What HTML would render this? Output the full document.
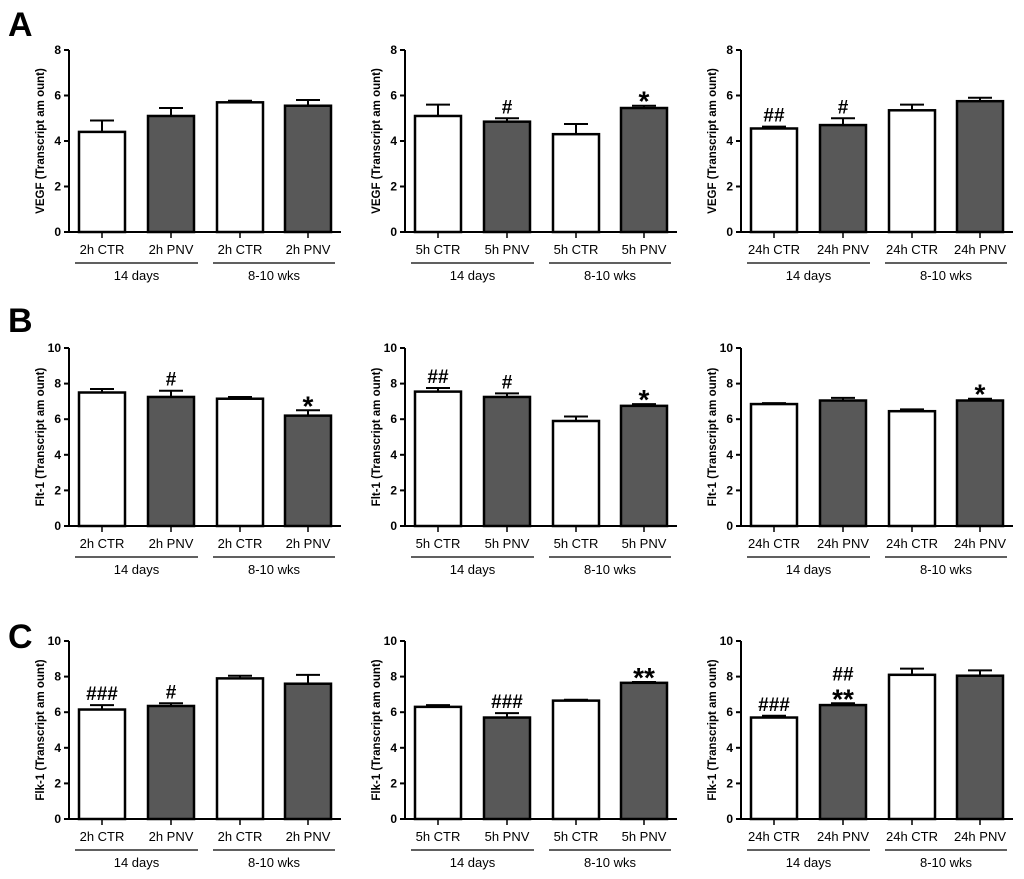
<!DOCTYPE html>
<html><head><meta charset="utf-8"><style>
body{margin:0;background:#fff;}
svg{display:block;font-family:"Liberation Sans",Arial,sans-serif;}
</style></head><body>
<svg id="fig" width="1024" height="879" viewBox="0 0 1024 879">
<text x="8" y="36" font-size="34" font-weight="bold">A</text>
<text x="8" y="332" font-size="34" font-weight="bold">B</text>
<text x="8" y="648" font-size="34" font-weight="bold">C</text>
</svg>
<script>
const timepoints = ["2h","5h","24h"];
const genes = ["VEGF","Flt-1","Flk-1"];
const groupLabels = ["14 days","8-10 wks"];
const yMaxByRow = [8,10,10];
const tickStepByRow = [2,2,2];
// values per row (gene), per column (timepoint): [CTR14, PNV14, CTR8, PNV8]
const valuesA = [[4.4,5.1,5.7,5.55],[5.1,4.85,4.3,5.45],[4.55,4.7,5.35,5.75]];
const errorsA = [[0.5,0.35,0.07,0.25],[0.5,0.15,0.45,0.1],[0.08,0.3,0.25,0.15]];
const valuesB = [[7.5,7.25,7.15,6.2],[7.55,7.25,5.9,6.75],[6.85,7.05,6.45,7.05]];
const errorsB = [[0.2,0.35,0.1,0.3],[0.2,0.2,0.25,0.1],[0.05,0.15,0.1,0.1]];
const valuesC = [[6.15,6.35,7.9,7.6],[6.3,5.7,6.65,7.65],[5.7,6.4,8.1,8.05]];
const errorsC = [[0.25,0.15,0.15,0.5],[0.1,0.25,0.05,0.05],[0.1,0.1,0.35,0.3]];
const marksA = [["","","",""],["","#","","*"],["##","#","",""]];
const marksB = [["","#","","*"],["##","#","","*"],["","","","*"]];
const marksC = [["###","#","",""],["","###","","**"],["###","##\n**","",""]];

const values=[valuesA,valuesB,valuesC], errors=[errorsA,errorsB,errorsC], marks=[marksA,marksB,marksC];
const colX=[69,405,741];
const rowTop=[50,348,641], rowBase=[232,526,819];
const NS="http://www.w3.org/2000/svg";
const svg=document.getElementById('fig');
function mk(tag,attrs,parent){const e=document.createElementNS(NS,tag);for(const k in attrs)e.setAttribute(k,attrs[k]);(parent||svg).appendChild(e);return e;}

for(let r=0;r<3;r++)for(let c=0;c<3;c++){
  const g=mk('g',{});
  
  
  const ax=colX[c], y0=rowBase[r], yt=rowTop[r], ymax=yMaxByRow[r];
  const yS=v=>y0-(v/ymax)*(y0-yt);
  const barOff=[10,79,148,216], bw=46;
  const xEnd=ax+272;
  for(let i=0;i<4;i++){
    const v=values[r][c][i], e=errors[r][c][i];
    const x=ax+barOff[i], cx=x+bw/2;
    const ey=yS(v+e);
    const el=mk('line',{x1:cx,x2:cx,y1:yS(v),y2:ey,stroke:'#000','stroke-width':2},g);
    
    
    const cap=mk('line',{x1:cx-12,x2:cx+12,y1:ey,y2:ey,stroke:'#000','stroke-width':2},g);
    
    
    const b=mk('rect',{x:x,y:yS(v),width:bw,height:y0-yS(v),fill:i%2?'#585858':'#fff',stroke:'#000','stroke-width':2.5},g);
    
    
    const m=marks[r][c][i];
    if(m){
      const parts=m.split('\n');
      parts.forEach((p,k)=>{
        const star=p.includes('*');
        const t=mk('text',{x:cx,y:ey-5-(parts.length-1-k)*18+(star?10:0),'text-anchor':'middle','font-size':star?28:19,'font-weight':'bold'},g);
        t.textContent=p;
        
        
      });
    }
    const lab=mk('text',{x:cx,y:y0+22,'text-anchor':'middle','font-size':13},g);
    lab.textContent=timepoints[c]+' '+(i%2?'PNV':'CTR');
    
    
    const tk=mk('line',{x1:cx,x2:cx,y1:y0,y2:y0+6,stroke:'#000','stroke-width':1.5},g);
    
    
  }
  const xa=mk('line',{x1:ax,x2:xEnd,y1:y0,y2:y0,stroke:'#000','stroke-width':2},g);
  
  
  const ya=mk('line',{x1:ax,x2:ax,y1:yt,y2:y0,stroke:'#000','stroke-width':2},g);
  
  
  for(let v=0;v<=ymax;v+=tickStepByRow[r]){
    const y=yS(v);
    const t=mk('line',{x1:ax-5,x2:ax,y1:y,y2:y,stroke:'#000','stroke-width':2},g);
    
    
    const tl=mk('text',{x:ax-8,y:y+4,'text-anchor':'end','font-size':12,'font-weight':'bold'},g);
    tl.textContent=v;
    
    
  }
  const ymid=(y0+yt)/2;
  const yt2=mk('text',{x:ax-25,y:ymid,'text-anchor':'middle','font-size':11.5,'font-weight':'bold',transform:`rotate(-90 ${ax-25} ${ymid})`},g);
  yt2.textContent=genes[r]+' (Transcript am ount)';
  
  
  for(let k=0;k<2;k++){
    const x1=ax+barOff[2*k]-4, x2=ax+barOff[2*k+1]+bw+4;
    const gl=mk('line',{x1:x1,x2:x2,y1:y0+31,y2:y0+31,stroke:'#000','stroke-width':1.3},g);
    
    
    const gt=mk('text',{x:(x1+x2)/2,y:y0+48,'text-anchor':'middle','font-size':13},g);
    gt.textContent=groupLabels[k];
    
    
  }
}
</script>
</body></html>
